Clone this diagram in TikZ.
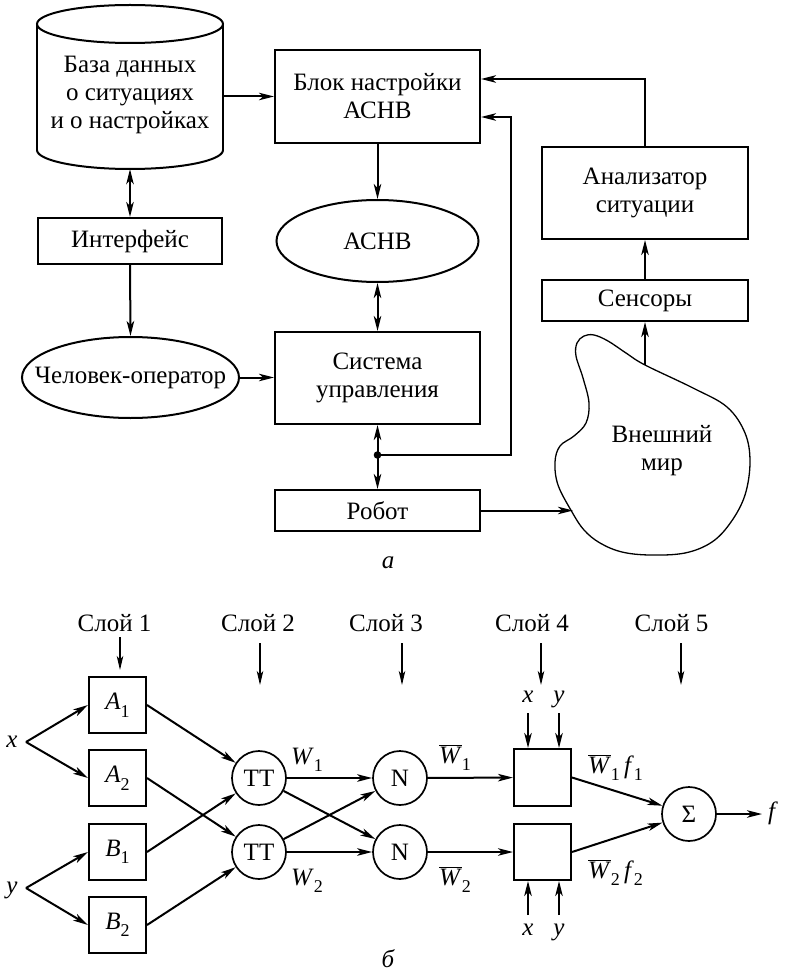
\documentclass[tikz,border=0pt]{standalone}
\usepackage{fontspec}
\setmainfont{Liberation Serif}
\usetikzlibrary{arrows.meta,shapes.geometric}
\newcommand{\sbs}[1]{\raisebox{-0.3em}{\fontsize{18}{18}\selectfont #1}}
\newcommand{\obw}{$\overline{\hbox{\textit{W}}}$}
\begin{document}
\begin{tikzpicture}[x=1pt,y=-1pt,
  every node/.style={font=\fontsize{25}{28}\selectfont, inner sep=0pt},
  lw/.style={line width=2pt},
  box/.style={draw, lw, rectangle, align=center},
  ell/.style={draw, lw, ellipse},
  circ/.style={draw, line width=1.7pt, circle, minimum size=54pt},
  sq/.style={draw, lw, rectangle, minimum width=57pt, minimum height=56pt},
  arr/.style={lw, -{Stealth[length=15pt,width=7.5pt,inset=4pt]}},
  darr/.style={lw, {Stealth[length=15pt,width=7.5pt,inset=4pt]}-{Stealth[length=15pt,width=7.5pt,inset=4pt]}},
  tarr/.style={line width=1.3pt, -{Stealth[length=14pt,width=6.5pt,inset=3.5pt]}},
  lab/.style={anchor=base},
  ]
\useasboundingbox (0,0) rectangle (785,973);

% ---------- part a ----------
% cylinder (database)
\node[minimum width=186pt, minimum height=148pt, align=center] (db) at (130,95) {База данных\\о ситуациях\\и о настройках};
\draw[lw] (130,24) ellipse [x radius=93, y radius=19];
\draw[lw] (37,24) -- (37,150);
\draw[lw] (223,24) -- (223,150);
\draw[lw, domain=180:360, samples=80] plot ({130+93*cos(\x)}, {150-19*sin(\x)});

\node[box, minimum width=184pt, minimum height=46pt] (intf) at (130,241) {Интерфейс};
\node[ell, minimum width=217pt, minimum height=81pt] (oper) at (130.5,377.5) {};
\node at (oper) {Человек-оператор};

\node[box, minimum width=205pt, minimum height=93pt] (blk) at (377.5,96.5) {Блок настройки\\АСНВ};
\node[ell, minimum width=202pt, minimum height=82pt] (asnv) at (377.5,241) {};
\node at (asnv) {АСНВ};
\node[box, minimum width=205pt, minimum height=92pt] (sys) at (377.5,378) {Система\\управления};
\node[box, minimum width=205pt, minimum height=41pt] (robot) at (377.5,510.5) {Робот};

\node[box, minimum width=206pt, minimum height=92pt] (anal) at (645,193) {Анализатор\\ситуации};
\node[box, minimum width=206pt, minimum height=41pt] (sens) at (645,300.5) {Сенсоры};

% outer world (cloud)
\draw[line width=1.3pt] plot[smooth cycle, tension=0.6] coordinates {
  (576,356) (577,343) (584,336) (594,335) (608,341) (626,353) (645,365) (693,388) (727,407)
  (745,433) (750,462) (745,495) (731,522) (712,542) (685,553) (650,555)
  (622,552) (600,543) (584,530) (572,512) (558,485) (555,462) (560,446)
  (574,436) (586,423) (589,403) (583,378)};
\node[align=center] (world) at (662,451) {Внешний\\мир};
\coordinate (wtop) at (645,365);
\coordinate (wleft) at (573,510.5);

% connectors a
\draw[arr] (db.east |- blk.west) -- (blk.west);
\draw[darr] (db.south) -- (intf.north);
\draw[arr] (intf.south) -- (oper.north);
\draw[arr] (oper.east) -- (sys.west |- oper.east);
\draw[arr] (blk.south) -- (asnv.north);
\draw[darr] (asnv.south) -- (sys.north);
\draw[darr] (sys.south) -- (robot.north);
\coordinate (j) at (377.5,455);
\fill (j) circle (3.8);
\coordinate (fb) at (511,117);
\draw[arr] (j) -| (fb) -- (fb -| blk.east);
\coordinate (fa) at (645,79);
\draw[arr] (anal.north) -- (fa) -- (fa -| blk.east);
\draw[arr] (sens.north) -- (anal.south);
\draw[arr] (wtop) -- (sens.south);
\draw[arr] (robot.east) -- (wleft);

\node[lab, font=\itshape\fontsize{25}{28}\selectfont] (la) at (388,568) {а};

% ---------- part b ----------
\foreach \n/\lx/\ax/\ya/\yb in {1/114.5/120/637/670, 2/258/260/643/685, 3/386/402/643/685, 4/532/541/643/685, 5/671.5/681/643/685} {
  \node (s\n) at (\lx,623) {Слой \n};
  \draw[tarr] (\ax,\ya) -- (\ax,\yb);
}

\node[sq] (A1) at (117.5,705) {\textit{A}\sbs{1}};
\node[sq] (A2) at (117.5,778) {\textit{A}\sbs{2}};
\node[sq] (B1) at (117.5,852) {\textit{B}\sbs{1}};
\node[sq] (B2) at (117.5,925) {\textit{B}\sbs{2}};

\node[lab] (lx) at (12,747.5) {\textit{x}};
\node[lab] (ly) at (12,893) {\textit{y}};
\coordinate (xf) at (26,742);
\coordinate (yf) at (26,888);

\node[circ] (T1) at (259,778) {TT};
\node[circ] (T2) at (259,852) {TT};
\node[circ] (N1) at (400,778) {N};
\node[circ] (N2) at (400,852) {N};
\node[sq, minimum height=57pt] (F1) at (542.5,777.5) {};
\node[sq] (F2) at (542.5,852) {};
\node[circ] (S) at (689,814) {Σ};
\coordinate (fo) at (762,814);
\node[lab, anchor=base west] (lf) at (768,819) {\textit{f}};

\draw[arr] (xf) -- (A1.west);
\draw[arr] (xf) -- (A2.west);
\draw[arr] (yf) -- (B1.west);
\draw[arr] (yf) -- (B2.west);
\draw[arr] (A1.east) -- (T1);
\draw[arr] (A2.east) -- (T2);
\draw[arr] (B1.east) -- (T1);
\draw[arr] (B2.east) -- (T2);
\draw[arr] (T1) -- (N1);
\draw[arr] (T1) -- (N2);
\draw[arr] (T2) -- (N1);
\draw[arr] (T2) -- (N2);
\draw[arr] (N1) -- (F1);
\draw[arr] (N2) -- (F2);
\draw[arr] (F1.east) -- (S);
\draw[arr] (F2.east) -- (S);
\draw[arr] (S) -- (fo);

% inputs x, y of layer 4
\node[lab] (x1) at (528,702) {\textit{x}};
\node[lab] (y1) at (559,702) {\textit{y}};
\node[lab] (x2) at (528,935) {\textit{x}};
\node[lab] (y2) at (559,935) {\textit{y}};
\coordinate (xi1) at (528,713);
\coordinate (yi1) at (559,713);
\coordinate (xi2) at (528,915);
\coordinate (yi2) at (559,915);
\draw[arr] (xi1) -- (xi1 |- F1.north);
\draw[arr] (yi1) -- (yi1 |- F1.north);
\draw[arr] (xi2) -- (xi2 |- F2.south);
\draw[arr] (yi2) -- (yi2 |- F2.south);

% weight labels
\node[anchor=base west] (w1) at (291,764) {\textit{W}\sbs{1}};
\node[anchor=base west] (w2) at (291,885) {\textit{W}\sbs{2}};
\node[anchor=base west] (wb1) at (439,763) {\obw\sbs{1}};
\node[anchor=base west] (wb2) at (439,885) {\obw\sbs{2}};
\node[anchor=base west] (wf1) at (588,773) {\obw\sbs{1}\,\textit{f}\sbs{1}};
\node[anchor=base west] (wf2) at (588,878) {\obw\sbs{2}\,\textit{f}\sbs{2}};

\node[lab, font=\itshape\fontsize{25}{28}\selectfont] (lb) at (388,967) {б};
\end{tikzpicture}
\end{document}
